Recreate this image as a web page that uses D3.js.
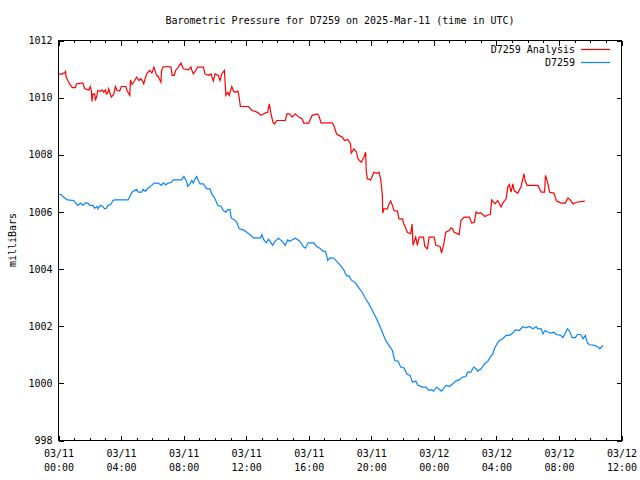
<!DOCTYPE html>
<html>
<head>
<meta charset="utf-8">
<script src="https://cdn.jsdelivr.net/npm/d3@7"></script>
<style>
  html, body { margin: 0; padding: 0; background: #fff; }
  svg { display: block; }
  text { font-family: "DejaVu Sans Mono", "Liberation Mono", monospace; font-size: 10px; fill: #000; }
</style>
</head>
<body>
<svg id="chart" width="640" height="480"></svg>
<script>
// ---- data (hours since 2025-03-11 00:00 UTC, pressure in millibars) ----
const titleText = "Barometric Pressure for D7259 on 2025-Mar-11 (time in UTC)";
const yLabelText = "milliBars";
const seriesNames = ["D7259 Analysis", "D7259"];
const seriesColors = ["#ff0000", "#0a84ff"];
const yTicks = [998, 1000, 1002, 1004, 1006, 1008, 1010, 1012];
const xMajorHours = [0, 4, 8, 12, 16, 20, 24, 28, 32, 36];

const analysisHours = [0,0.24,0.28,0.43,0.45,0.49,0.60,0.71,0.85,0.92,1.09,1.14,1.46,1.56,1.67,1.94,2.03,2.10,2.14,2.20,2.31,2.36,2.46,2.52,2.68,2.78,2.89,3.00,3.06,3.14,3.21,3.32,3.38,3.53,3.64,3.74,3.91,4.02,4.30,4.38,4.56,4.60,4.70,4.88,4.99,5.15,5.26,5.37,5.45,5.58,5.67,5.84,5.97,6.10,6.27,6.37,6.55,6.59,6.69,6.91,7.01,7.19,7.27,7.40,7.49,7.66,7.83,7.98,8.30,8.47,8.52,8.62,8.77,8.90,9.26,9.37,9.58,9.75,9.90,10.01,10.22,10.33,10.44,10.61,10.70,10.83,10.91,11.08,11.19,11.29,11.47,11.55,11.63,12.15,12.37,12.58,12.79,12.94,13.22,13.37,13.48,13.59,13.71,13.80,13.97,14.50,14.61,14.78,14.93,15.14,15.36,15.57,15.68,16.00,16.22,16.54,16.64,16.79,16.96,17.50,17.60,17.78,17.92,18.14,18.29,18.50,18.67,18.72,18.89,19.06,19.14,19.36,19.53,19.64,19.68,19.75,19.96,20.17,20.34,20.49,20.60,20.71,20.73,20.81,21.03,21.13,21.24,21.35,21.45,21.67,21.77,21.99,22.09,22.31,22.52,22.61,22.67,22.84,22.95,23.06,23.34,23.42,23.59,23.70,24.02,24.13,24.40,24.49,24.62,24.77,24.98,25.09,25.20,25.30,25.62,25.73,25.94,26.27,26.42,26.59,26.70,26.84,26.97,27.13,27.27,27.48,27.61,27.70,27.91,28.09,28.30,28.41,28.62,28.73,28.83,28.94,29.05,29.15,29.37,29.58,29.76,29.84,29.97,30.65,30.87,31.08,31.14,31.30,31.40,31.68,31.85,32.15,32.41,32.58,32.75,32.90,33.11,33.65];
const analysisValues = [1010.82,1010.82,1010.86,1010.86,1010.95,1010.72,1010.60,1010.48,1010.37,1010.35,1010.35,1010.48,1010.51,1010.51,1010.31,1010.27,1010.39,1010.25,1009.87,1010.13,1010.13,1009.90,1010.08,1010.25,1010.22,1010.27,1010.19,1010.27,1010.13,1010.16,1010.31,1010.11,1010.02,1010.11,1010.39,1010.25,1010.23,1010.39,1010.39,1010.25,1010.08,1010.62,1010.46,1010.60,1010.72,1010.60,1010.66,1010.58,1010.48,1010.74,1010.86,1010.95,1010.86,1011.07,1010.78,1010.74,1010.54,1010.95,1011.07,1011.09,1011.09,1011.07,1010.78,1010.78,1010.95,1011.07,1011.21,1011.01,1010.97,1011.07,1010.97,1010.83,1010.95,1011.07,1011.07,1010.83,1010.78,1010.83,1010.58,1010.83,1010.78,1010.60,1010.83,1010.95,1010.08,1010.19,1010.08,1010.39,1010.23,1010.19,1010.23,1010.02,1009.69,1009.69,1009.55,1009.52,1009.46,1009.38,1009.46,1009.49,1009.78,1009.43,1009.14,1009.08,1009.20,1009.20,1009.43,1009.43,1009.32,1009.43,1009.32,1009.26,1009.11,1009.11,1009.38,1009.43,1009.38,1009.11,1009.12,1009.12,1009.03,1008.73,1008.68,1008.62,1008.50,1008.54,1008.38,1008.06,1008.21,1008.09,1007.86,1007.74,1007.92,1008.09,1007.43,1007.16,1007.12,1007.39,1007.35,1007.39,1007.16,1006.58,1005.96,1006.11,1006.11,1006.28,1006.38,1006.23,1006.05,1006.03,1005.76,1005.76,1005.58,1005.29,1005.23,1005.58,1004.83,1005.12,1004.83,1005.12,1005.12,1004.79,1004.71,1005.12,1005.12,1004.83,1004.79,1004.56,1004.83,1005.29,1005.35,1005.44,1005.41,1005.29,1005.21,1005.70,1005.82,1005.82,1005.61,1005.64,1006.00,1005.94,1005.97,1005.91,1005.84,1005.90,1005.91,1006.42,1006.28,1006.40,1006.17,1006.31,1006.46,1006.87,1006.96,1006.69,1006.98,1006.73,1006.66,1006.89,1007.33,1007.08,1006.93,1006.93,1006.69,1006.69,1007.28,1006.98,1006.69,1006.66,1006.38,1006.31,1006.31,1006.49,1006.40,1006.28,1006.34,1006.38];

const stationHours = [0,0.19,0.28,0.56,0.98,1.14,1.24,1.41,1.56,1.71,1.88,1.99,2.20,2.31,2.48,2.52,2.70,2.84,2.95,3.06,3.16,3.34,3.48,3.59,4.45,4.70,4.99,5.09,5.31,5.41,5.56,5.73,5.95,6.12,6.37,6.59,6.69,6.87,7.01,7.23,7.33,7.87,8.02,8.19,8.26,8.41,8.52,8.62,8.73,8.84,8.94,9.05,9.26,9.48,9.69,9.80,10.01,10.18,10.40,10.54,10.70,10.83,10.97,11.04,11.25,11.40,11.55,11.83,12.05,12.19,12.37,12.47,12.90,13.01,13.11,13.28,13.43,13.54,13.69,13.86,14.07,14.29,14.50,14.65,14.78,14.93,15.14,15.36,15.51,15.64,15.79,15.96,16.32,16.49,16.75,16.92,17.07,17.22,17.35,17.60,17.82,18.03,18.24,18.42,18.58,18.72,19.00,19.21,19.42,19.64,19.85,20.07,20.28,20.49,20.71,20.92,21.13,21.35,21.50,21.71,21.88,22.10,22.27,22.48,22.63,22.84,22.99,23.27,23.49,23.70,23.83,23.98,24.19,24.34,24.49,24.77,24.98,25.20,25.41,25.62,25.84,26.05,26.16,26.37,26.55,26.70,26.80,27.02,27.23,27.45,27.61,27.77,27.87,28.04,28.19,28.41,28.62,28.83,29.05,29.20,29.47,29.69,29.90,30.12,30.33,30.55,30.65,30.87,30.98,31.12,31.30,31.51,31.68,31.83,32.10,32.26,32.41,32.54,32.68,32.84,33.05,33.18,33.39,33.54,33.69,33.82,33.97,34.29,34.50,34.61,34.82];
const stationValues = [1006.61,1006.61,1006.54,1006.42,1006.40,1006.28,1006.23,1006.31,1006.23,1006.32,1006.31,1006.23,1006.23,1006.13,1006.19,1006.11,1006.23,1006.19,1006.11,1006.13,1006.23,1006.26,1006.40,1006.42,1006.42,1006.69,1006.79,1006.69,1006.69,1006.79,1006.72,1006.84,1006.93,1007.01,1007.01,1006.93,1007.02,1006.95,1007.01,1007.04,1007.12,1007.12,1007.24,1007.07,1006.90,1006.98,1007.10,1007.01,1007.16,1007.24,1007.10,1006.98,1006.98,1006.81,1006.81,1006.63,1006.46,1006.23,1006.19,1006.05,1005.99,1006.08,1006.08,1005.79,1005.72,1005.64,1005.41,1005.37,1005.29,1005.23,1005.14,1005.09,1005.09,1005.20,1005.04,1004.92,1005.04,1004.97,1004.83,1004.98,1005.08,1004.98,1004.83,1005.02,1004.97,1005.02,1005.08,1005.00,1004.92,1004.79,1004.73,1004.92,1004.92,1004.80,1004.71,1004.63,1004.62,1004.30,1004.39,1004.38,1004.25,1004.13,1003.97,1003.76,1003.76,1003.62,1003.51,1003.34,1003.19,1002.96,1002.78,1002.55,1002.32,1002.08,1001.79,1001.50,1001.33,1001.15,1000.80,1000.78,1000.57,1000.54,1000.33,1000.28,1000.04,1000.08,999.93,999.87,999.87,999.75,999.79,999.73,999.87,999.79,999.73,999.93,999.89,999.98,1000.08,1000.12,1000.22,1000.24,1000.39,1000.39,1000.57,1000.51,1000.43,1000.51,1000.68,1000.77,1000.92,1001.03,1001.21,1001.38,1001.50,1001.56,1001.68,1001.68,1001.76,1001.87,1001.85,1001.99,1001.94,1001.99,1001.91,1001.99,1001.91,1001.91,1001.73,1001.85,1001.79,1001.76,1001.79,1001.71,1001.68,1001.60,1001.76,1001.91,1001.83,1001.60,1001.60,1001.71,1001.71,1001.56,1001.68,1001.41,1001.35,1001.33,1001.27,1001.21,1001.33];

// ---- layout ----
const START = Date.UTC(2025, 2, 11, 0, 0);
const toDate = h => new Date(START + h * 3600e3);
const pLeft = 58.5, pRight = 621.5, pTop = 40.5, pBottom = 440.5;

const svg = d3.select("#chart");
const x = d3.scaleUtc().domain([toDate(0), toDate(36)]).range([pLeft, pRight]);
const y = d3.scaleLinear().domain([998, 1012]).range([pBottom, pTop]);

const fmtDate = d3.utcFormat("%m/%d");
const fmtTime = d3.utcFormat("%H:%M");
const majorDates = xMajorHours.map(toDate);
const minorDates = d3.range(0, 37).filter(h => h % 4 !== 0).map(toDate);

function styleAxis(g) {
  g.select(".domain").remove();
  g.selectAll(".tick line").attr("stroke", "#000").attr("shape-rendering", "crispEdges");
  g.selectAll("text").attr("font-family", null).attr("font-size", null).attr("fill", "#000");
}

// minor ticks (bottom & top)
svg.append("g").attr("transform", `translate(0,${pBottom})`)
  .call(d3.axisBottom(x).tickValues(minorDates).tickSize(-2.5).tickFormat(""))
  .call(styleAxis);
svg.append("g").attr("transform", `translate(0,${pTop})`)
  .call(d3.axisTop(x).tickValues(minorDates).tickSize(-2.5).tickFormat(""))
  .call(styleAxis);

// major bottom axis with two-line labels
const gx = svg.append("g").attr("transform", `translate(0,${pBottom})`)
  .call(d3.axisBottom(x).tickValues(majorDates).tickSize(-5).tickSizeOuter(0).tickPadding(9).tickFormat(""))
  .call(styleAxis);
gx.selectAll(".tick").each(function(d) {
  const t = d3.select(this).select("text");
  t.attr("y", null).attr("dy", null).text(null);
  t.append("tspan").attr("x", 0).attr("y", 16.5).text(fmtDate(d));
  t.append("tspan").attr("x", 0).attr("y", 30.5).text(fmtTime(d));
});
svg.append("g").attr("transform", `translate(0,${pTop})`)
  .call(d3.axisTop(x).tickValues(majorDates).tickSize(-5).tickFormat(""))
  .call(styleAxis);

// y axes
svg.append("g").attr("transform", `translate(${pLeft},0)`)
  .call(d3.axisLeft(y).tickValues(yTicks).tickSize(-5).tickPadding(6).tickFormat(d3.format("d")))
  .call(styleAxis);
svg.append("g").attr("transform", `translate(${pRight},0)`)
  .call(d3.axisRight(y).tickValues(yTicks).tickSize(-5).tickFormat(""))
  .call(styleAxis);

// frame
svg.append("rect").attr("x", pLeft).attr("y", pTop).attr("width", pRight - pLeft).attr("height", pBottom - pTop)
  .attr("fill", "none").attr("stroke", "#000").attr("shape-rendering", "crispEdges");

// series
const line = d3.line().x(d => x(d[0])).y(d => y(d[1]));
const series = [
  analysisHours.map((h, i) => [toDate(h), analysisValues[i]]),
  stationHours.map((h, i) => [toDate(h), stationValues[i]])
];
series.forEach((s, i) => {
  svg.append("path").datum(s).attr("d", line)
    .attr("fill", "none").attr("stroke", seriesColors[i]).attr("stroke-width", 1.2)
    .attr("stroke-linejoin", "miter");
});

// title and y label
svg.append("text").attr("x", (pLeft + pRight) / 2).attr("y", 23.5).attr("text-anchor", "middle").text(titleText);
svg.append("text").attr("transform", `translate(15.5,240) rotate(-90)`).attr("text-anchor", "middle").text(yLabelText);

// legend
seriesNames.forEach((name, i) => {
  const ly = 49.5 + i * 13;
  svg.append("text").attr("x", 575).attr("y", ly + 3.5).attr("text-anchor", "end").text(name);
  svg.append("line").attr("x1", 581).attr("x2", 610).attr("y1", ly).attr("y2", ly)
    .attr("stroke", seriesColors[i]).attr("stroke-width", 1.2);
});
</script>
</body>
</html>
